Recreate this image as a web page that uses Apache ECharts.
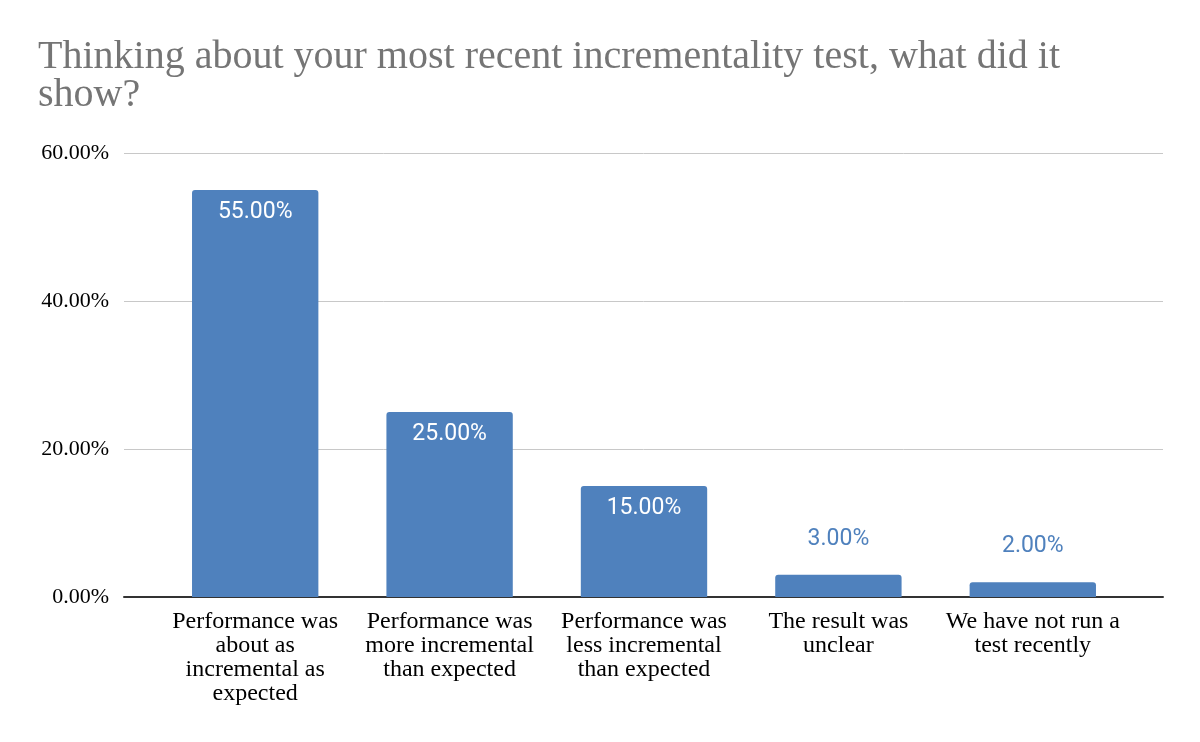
<!DOCTYPE html>
<html>
<head>
<meta charset="utf-8">
<script src="https://cdn.jsdelivr.net/npm/echarts@6/dist/echarts.min.js"></script>
<style>
html,body{margin:0;padding:0;background:#fff;}
#chart{width:1200px;height:742px;}
</style>
</head>
<body>
<div id="chart"></div>
<script>
const titleText = "Thinking about your most recent incrementality test, what did it show?";
const categories = [
  "Performance was\nabout as\nincremental as\nexpected",
  "Performance was\nmore incremental\nthan expected",
  "Performance was\nless incremental\nthan expected",
  "The result was\nunclear",
  "We have not run a\ntest recently"
];
const values = [55, 25, 15, 3, 2];
const yTicks = { min: 0, max: 60, interval: 20 };

const barColor = '#4f81bd';
const serif = "'Liberation Serif','Times New Roman',serif";

const chart = echarts.init(document.getElementById('chart'));
const seriesData = values.map(v => ({
  value: v,
  label: v >= 10
    ? { position: 'insideTop', distance: 11, color: '#ffffff' }
    : { position: 'top', distance: 24, color: barColor }
}));

chart.setOption({
  animation: false,
  backgroundColor: '#ffffff',
  title: {
    text: titleText,
    left: 33, top: 33,
    textStyle: {
      fontFamily: serif, fontSize: 40, fontWeight: 'normal', color: '#757575',
      width: 1060, overflow: 'break', lineHeight: 38
    }
  },
  grid: [
    { left: 124, right: 37, top: 153, bottom: 145, containLabel: false },
    { left: 158, right: 70, top: 153, bottom: 145, containLabel: false }
  ],
  xAxis: [
    { gridIndex: 0, type: 'value', min: 0, max: 1, show: true,
      axisLine: { show: true, lineStyle: { color: '#333333', width: 2 } },
      axisTick: { show: false }, axisLabel: { show: false }, splitLine: { show: false } },
    { gridIndex: 1, type: 'category', data: categories,
      axisLine: { show: false }, axisTick: { show: false },
      axisLabel: { fontFamily: serif, fontSize: 24, color: '#000000', lineHeight: 24, margin: 13, interval: 0 } }
  ],
  yAxis: [
    { gridIndex: 0, type: 'value', min: yTicks.min, max: yTicks.max, interval: yTicks.interval,
      axisLine: { show: false }, axisTick: { show: false },
      axisLabel: { fontFamily: serif, fontSize: 22, color: '#000000', margin: 15,
        formatter: v => v.toFixed(2) + '%' },
      splitLine: { lineStyle: { color: '#c8c8c8', width: 1 } } },
    { gridIndex: 1, type: 'value', min: yTicks.min, max: yTicks.max, interval: yTicks.interval,
      show: false, splitLine: { show: false } }
  ],
  series: [{
    type: 'bar', xAxisIndex: 1, yAxisIndex: 1,
    data: seriesData,
    barWidth: '65%',
    itemStyle: { color: barColor, borderRadius: [3, 3, 0, 0] },
    label: { show: true, fontFamily: 'Roboto', fontSize: 23,
      formatter: p => p.value.toFixed(2) + '%' },
    z: 1
  }]
});
</script>
</body>
</html>
